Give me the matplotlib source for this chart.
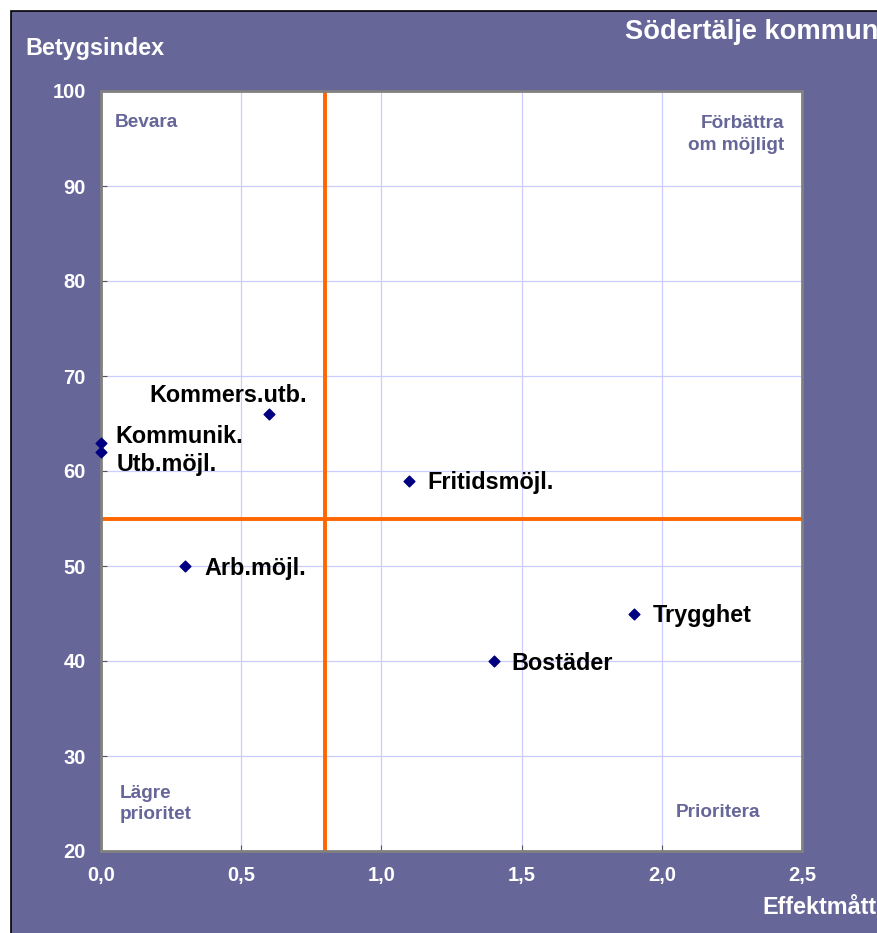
import matplotlib
matplotlib.use("Agg")
import matplotlib.pyplot as plt
from matplotlib.patches import Rectangle

plt.rcParams['font.family'] = ['Liberation Sans', 'DejaVu Sans']
plt.rcParams['font.weight'] = 'bold'

# data
labels = ["Kommers.utb.", "Kommunik.", "Utb.möjl.", "Fritidsmöjl.", "Arb.möjl.", "Trygghet", "Bostäder"]
effekt = [0.6, 0.0, 0.0, 1.1, 0.3, 1.9, 1.4]
betyg = [66, 63, 62, 59, 50, 45, 40]
x_ticks = [0.0, 0.5, 1.0, 1.5, 2.0, 2.5]
x_ticklabels = ["0,0", "0,5", "1,0", "1,5", "2,0", "2,5"]
y_ticks = [20, 30, 40, 50, 60, 70, 80, 90, 100]
x_split = 0.8
y_split = 55

# label offsets in pixels (dx, dy, ha)
offsets = [(-41, 18, 'center'), (14, 6, 'left'), (16, -13, 'left'), (18, -2, 'left'),
           (19, -2, 'left'), (19, -2, 'left'), (18, -2, 'left')]

bg = '#666699'
fig = plt.figure(figsize=(8.78, 9.33), dpi=100, facecolor='white')
fig.patches.append(Rectangle((11 / 878, -0.01), 1, 0.01 + (933 - 11) / 933, transform=fig.transFigure,
                             facecolor=bg, edgecolor='black', linewidth=1.2, zorder=-10))

ax = fig.add_axes([101 / 878, 82 / 933, 701 / 878, 760 / 933])
ax.set_facecolor('white')
ax.set_xlim(0, 2.5)
ax.set_ylim(20, 100)
ax.set_xticks(x_ticks)
ax.set_xticklabels(x_ticklabels)
ax.set_yticks(y_ticks)
ax.grid(True, color='#ccccff', linewidth=0.9)
ax.set_axisbelow(True)
for s in ax.spines.values():
    s.set_color('#808080')
    s.set_linewidth(2)
ax.tick_params(direction='in', length=4, color='#555555', labelcolor='white', labelsize=14.5)
ax.tick_params(axis='y', pad=11)
ax.tick_params(axis='x', pad=11)
for t in ax.get_xticklabels() + ax.get_yticklabels():
    t.set_fontweight('bold')

ax.axvline(x_split, color='#ff6600', linewidth=2.8, zorder=2)
ax.axhline(y_split, color='#ff6600', linewidth=2.8, zorder=2)

ax.scatter(effekt, betyg, marker='D', s=30, color='#000080', zorder=4, clip_on=False)
for lab, xv, yv, (dx, dy, ha) in zip(labels, effekt, betyg, offsets):
    ax.annotate(lab, (xv, yv), xytext=(dx, dy), textcoords='offset pixels', ha=ha, va='center',
                fontsize=16.8, fontweight='bold', color='black', zorder=5)

qc = '#666699'
qs = 13.7
ax.text(0.02, 0.958, "Bevara", transform=ax.transAxes, fontsize=qs, color=qc, ha='left', va='center')
ax.text(0.975, 0.943, "Förbättra\nom möjligt", transform=ax.transAxes, fontsize=qs, color=qc,
        ha='right', va='center', multialignment='right', linespacing=1.35)
ax.text(0.027, 0.062, "Lägre\nprioritet", transform=ax.transAxes, fontsize=qs, color=qc,
        ha='left', va='center', linespacing=1.35)
ax.text(0.94, 0.051, "Prioritera", transform=ax.transAxes, fontsize=qs, color=qc, ha='right', va='center')

fig.text(25 / 878, 1 - 48 / 933, "Betygsindex", fontsize=16.8, fontweight='bold', color='white', ha='left', va='center')
fig.text(625 / 878, 1 - 32 / 933, "Södertälje kommun", fontsize=19.6, fontweight='bold', color='white', ha='left', va='center')
fig.text(877 / 878, 1 - 907 / 933, "Effektmått", fontsize=16.8, fontweight='bold', color='white', ha='right', va='center')

fig.savefig("out.png", dpi=100, facecolor=fig.get_facecolor())
